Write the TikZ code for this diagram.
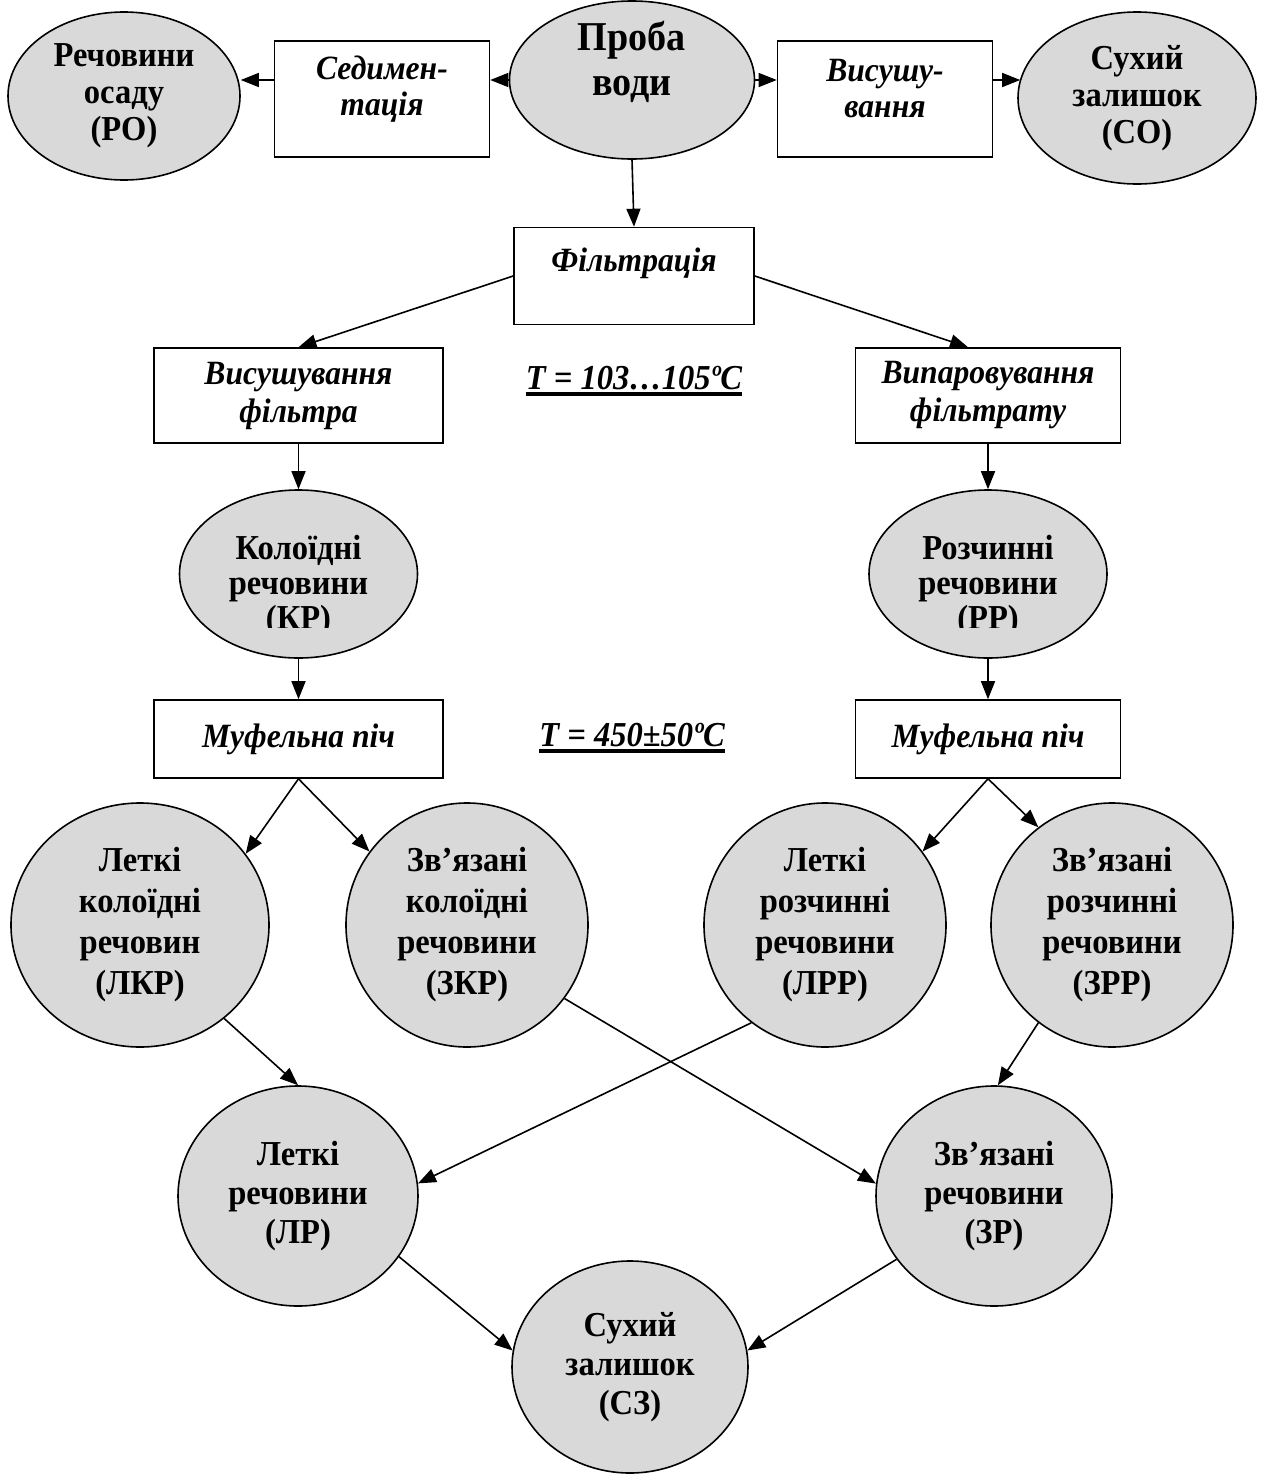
\documentclass[tikz,border=0pt]{standalone}
\usepackage{fontspec}
\setmainfont{Liberation Serif}[FakeStretch=0.93]
\usetikzlibrary{arrows.meta,shapes.geometric}
\begin{document}
\begin{tikzpicture}[x=1pt,y=-1pt,
  oval/.style={ellipse, draw, line width=1.6pt, fill=black!15, inner sep=0pt, align=center,
    font=\fontsize{35}{39}\selectfont\bfseries},
  pbox/.style={rectangle, draw, line width=1.6pt, inner sep=0pt, align=center,
    font=\fontsize{34}{38}\selectfont\bfseries\itshape},
  ptext/.style={inner sep=0pt, align=center, font=\fontsize{34}{36}\selectfont\bfseries\itshape},
  ctext/.style={inner sep=0pt, align=center, font=\fontsize{35}{35}\selectfont\bfseries},
  ttext/.style={inner sep=0pt, font=\fontsize{35}{38}\selectfont\bfseries\itshape},
  arr/.style={line width=1.6pt, -{Triangle[length=18pt,width=14pt]}},
  uline/.style={line width=4pt}
]
\useasboundingbox (0,0) rectangle (1261,1475);

% top row
\node[oval, minimum width=232pt, minimum height=168pt, font=\fontsize{35}{37}\selectfont\bfseries] (ro) at (124,96) {Речовини\\осаду\\(РО)};
\node[pbox, minimum width=215pt, minimum height=116pt] (sed) at (382,99) {};
\node[ptext] (sedt) at (382,89) {Седимен-\\тація};
\node[oval, minimum width=245pt, minimum height=158pt] (proba) at (632,80) {};
\node[inner sep=0pt, align=center, font=\fontsize{41}{45}\selectfont\bfseries] (probat) at (632,62) {Проба\\води};
\node[pbox, minimum width=215pt, minimum height=116pt] (vys) at (885,99) {};
\node[ptext] (vyst) at (885,89) {Висушу-\\вання};
\node[oval, minimum width=238pt, minimum height=172pt, font=\fontsize{35}{37}\selectfont\bfseries] (co) at (1137,98) {Сухий\\залишок\\(СО)};

% filtration
\node[pbox, minimum width=240pt, minimum height=97pt] (filt) at (634,276) {};
\node[ptext] (filtt) at (634,263) {Фільтрація};
\node[pbox, minimum width=289pt, minimum height=95pt] (vf) at (298.5,395.5) {Висушування\\фільтра};
\node[pbox, minimum width=265pt, minimum height=95pt] (vpf) at (988,395.5) {Випаровування\\фільтрату};
\node[ttext] (t1) at (634,378) {T = 103…105ºC};
\draw[uline] ([yshift=-5pt]t1.base west) -- ([yshift=-5pt]t1.base east);

% colloid / dissolved
\node[oval, minimum width=238pt, minimum height=168pt] (kr) at (298.5,574) {};
\node[oval, minimum width=238pt, minimum height=168pt] (rr) at (988,574) {};
\begin{scope}
  \clip (150,480) rectangle (450,627);
  \node[ctext] (krt) at (298.5,586) {Колоїдні\\речовини\\(КР)};
\end{scope}
\begin{scope}
  \clip (840,480) rectangle (1140,627);
  \node[ctext] (rrt) at (988,586) {Розчинні\\речовини\\(РР)};
\end{scope}

\node[pbox, minimum width=289pt, minimum height=78pt] (mufl) at (298.5,739) {Муфельна піч};
\node[pbox, minimum width=265pt, minimum height=78pt] (mufr) at (988,739) {Муфельна піч};
\node[ttext] (t2) at (632,735) {T = 450±50ºC};
\draw[uline] ([yshift=-5pt]t2.base west) -- ([yshift=-5pt]t2.base east);

% fourth row
\node[oval, minimum width=258pt, minimum height=244pt, font=\fontsize{35}{41}\selectfont\bfseries] (lkr) at (140,925) {Леткі\\колоїдні\\речовин\\(ЛКР)};
\node[oval, minimum width=242pt, minimum height=244pt, font=\fontsize{35}{41}\selectfont\bfseries] (zkr) at (467,925) {Зв’язані\\колоїдні\\речовини\\(ЗКР)};
\node[oval, minimum width=242pt, minimum height=244pt, font=\fontsize{35}{41}\selectfont\bfseries] (lrr) at (825,925) {Леткі\\розчинні\\речовини\\(ЛРР)};
\node[oval, minimum width=242pt, minimum height=244pt, font=\fontsize{35}{41}\selectfont\bfseries] (zrr) at (1112,925) {Зв’язані\\розчинні\\речовини\\(ЗРР)};

% fifth row
\node[oval, minimum width=240pt, minimum height=220pt] (lr) at (298,1196) {Леткі\\речовини\\(ЛР)};
\node[oval, minimum width=236pt, minimum height=220pt] (zr) at (994,1196) {Зв’язані\\речовини\\(ЗР)};
\node[oval, minimum width=236pt, minimum height=212pt] (sz) at (630,1367) {Сухий\\залишок\\(СЗ)};

% connectors
\draw[arr] (proba.west) -- (sed.east |- proba.west);
\draw[arr] (sed.west |- proba.west) -- (ro.east |- proba.west);
\draw[arr] (proba.east) -- (vys.west |- proba.east);
\draw[arr] (vys.east |- proba.east) -- ([xshift=3pt]co.west |- proba.east);
\draw[arr] (proba.south) -- (filt.north);
\draw[arr] (filt.west) -- (vf.north);
\draw[arr] (filt.east) -- ([xshift=-20pt]vpf.north);
\draw[arr] (vf.south) -- (kr.north);
\draw[arr] (vpf.south) -- (rr.north);
\draw[arr] (kr.south) -- (mufl.north);
\draw[arr] (rr.south) -- (mufr.north);
\draw[arr] (mufl.south) -- (lkr.34);
\draw[arr] (mufl.south) -- (zkr.143);
\draw[arr] (mufr.south) -- (lrr.37);
\draw[arr] (mufr.south) -- (zrr.127);
\draw[arr] (lkr.-48) -- (lr.90);
\draw[arr] (zkr.-37) -- (zr.174);
\draw[arr] (lrr.-127) -- (lr.6);
\draw[arr] (zrr.-127) -- (zr.88);
\draw[arr] (lr.-31) -- (sz.172);
\draw[arr] (zr.-147) -- (sz.8);
\end{tikzpicture}
\end{document}
